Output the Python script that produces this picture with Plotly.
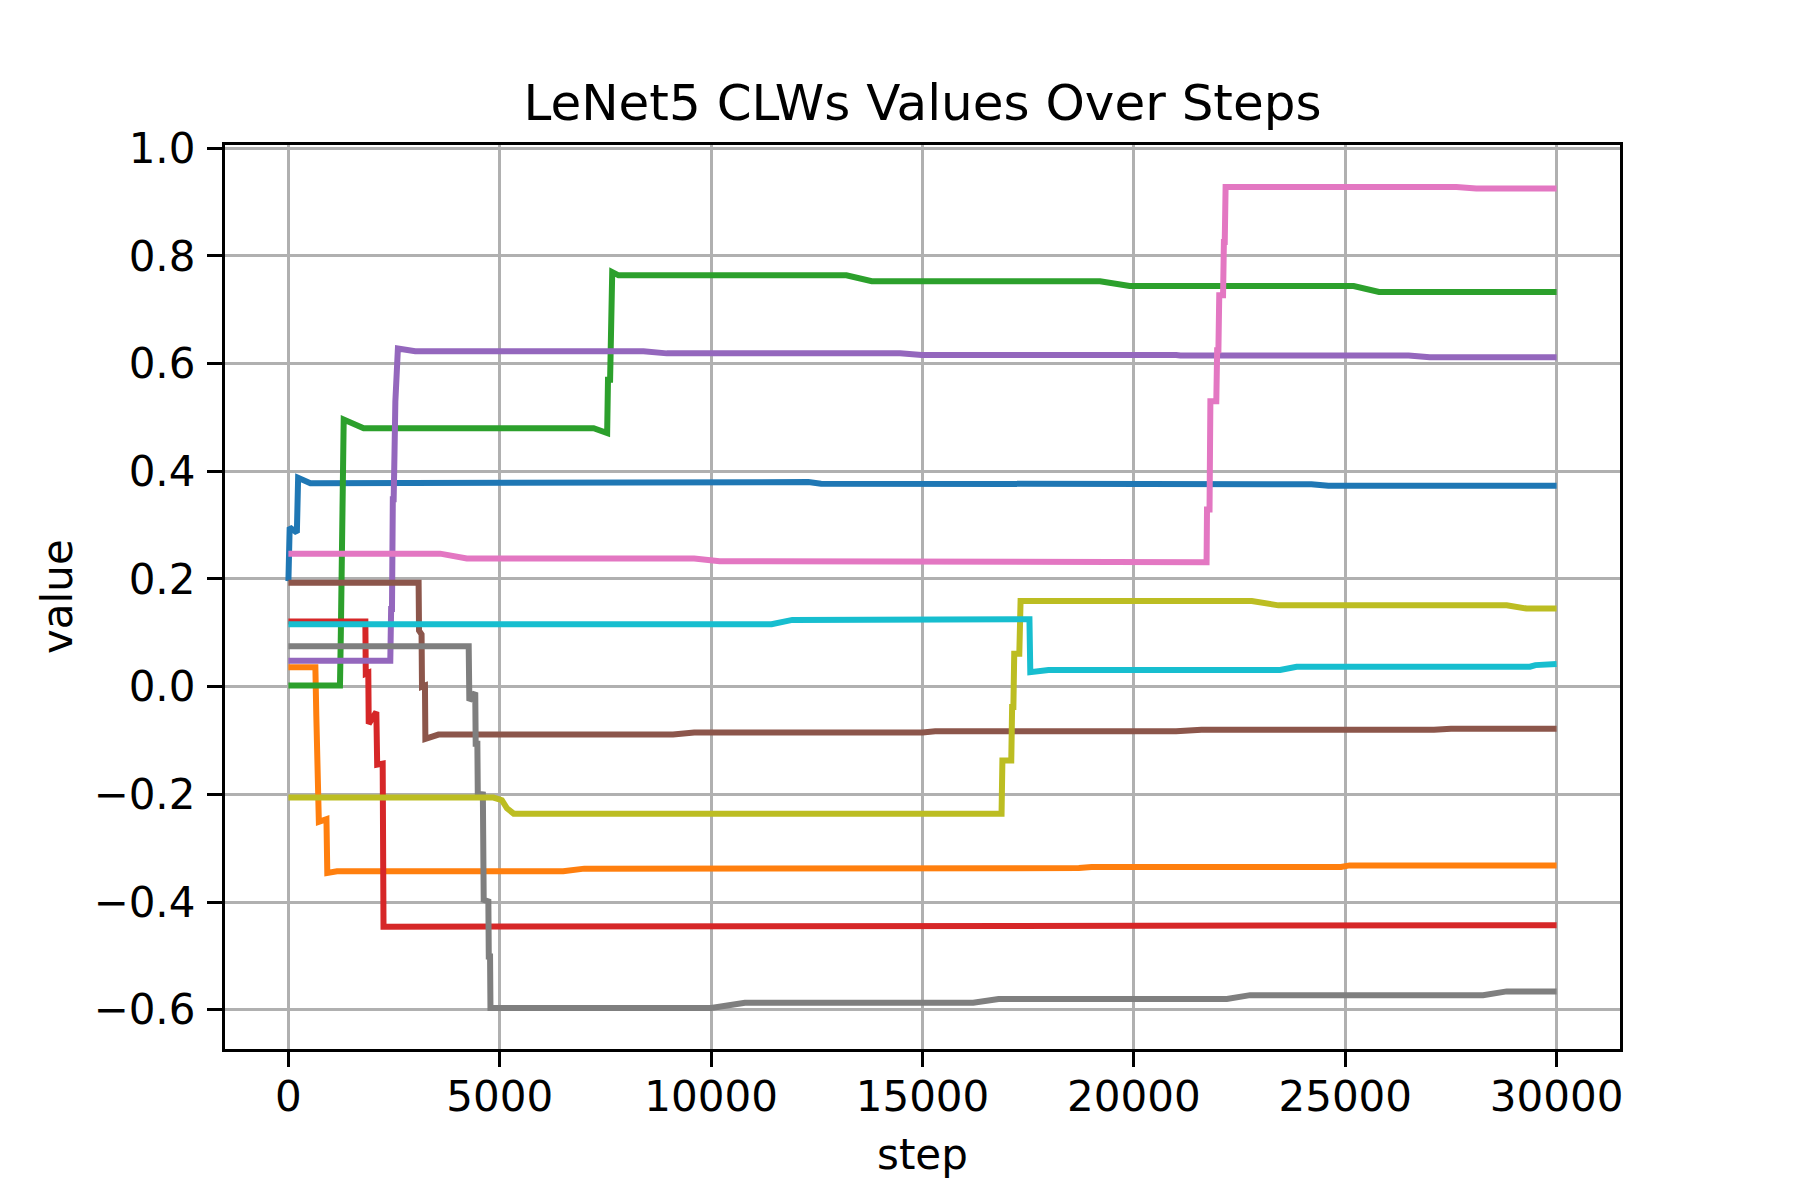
import plotly.graph_objects as go

# ---- data (step, value) per CLW series ----
s0 = [0, 30, 200, 230, 520, 6000, 6450, 12300, 12600, 18100, 18400, 24200, 24600, 30000]
v0 = [0.196, 0.296, 0.286, 0.388, 0.378, 0.378, 0.380, 0.380, 0.377, 0.377, 0.376, 0.376, 0.373, 0.373]

s1 = [0, 638, 660, 690, 720, 900, 920, 1150, 6500, 7000, 12500, 12900, 18700, 19000, 24900, 25100, 30000]
v1 = [0.036, 0.036, -0.054, -0.154, -0.251, -0.246, -0.346, -0.343, -0.343, -0.338, -0.338, -0.337, -0.337, -0.335, -0.335, -0.332, -0.332]

s2 = [0, 1220, 1240, 1260, 1280, 1308, 1780, 7220, 7540, 7560, 7610, 7620, 7650, 7660, 7810, 13200, 13800, 19200, 19900, 25200, 25800, 30000]
v2 = [0.002, 0.002, 0.098, 0.298, 0.397, 0.496, 0.480, 0.480, 0.471, 0.570, 0.570, 0.672, 0.672, 0.770, 0.764, 0.764, 0.753, 0.753, 0.744, 0.744, 0.733, 0.733]

s3 = [0, 1820, 1830, 1890, 1900, 2080, 2100, 2230, 2250, 30000]
v3 = [0.121, 0.121, 0.024, 0.026, -0.069, -0.047, -0.145, -0.143, -0.446, -0.443]

s4 = [0, 2410, 2430, 2450, 2470, 2490, 2510, 2530, 2590, 3000, 8400, 8950, 14470, 14980, 21000, 21100, 26500, 27000, 30000]
v4 = [0.048, 0.048, 0.144, 0.144, 0.348, 0.348, 0.434, 0.53, 0.628, 0.623, 0.623, 0.619, 0.619, 0.616, 0.616, 0.615, 0.615, 0.612, 0.612]

s5 = [0, 3080, 3090, 3150, 3160, 3230, 3240, 3550, 9100, 9600, 15000, 15300, 21000, 21600, 27100, 27500, 30000]
v5 = [0.193, 0.193, 0.104, 0.097, 0.000, 0.002, -0.097, -0.089, -0.089, -0.085, -0.085, -0.083, -0.083, -0.080, -0.080, -0.078, -0.078]

s6 = [0, 3590, 4220, 9600, 10200, 15500, 15800, 21720, 21730, 21790, 21810, 21950, 21970, 22000, 22020, 22110, 22130, 22150, 22170, 27630, 28100, 30000]
v6 = [0.247, 0.247, 0.238, 0.238, 0.233, 0.233, 0.231, 0.231, 0.329, 0.329, 0.530, 0.530, 0.625, 0.625, 0.727, 0.727, 0.826, 0.826, 0.928, 0.928, 0.925, 0.925]

s7 = [0, 4265, 4280, 4420, 4430, 4470, 4480, 4600, 4620, 4730, 4740, 4770, 4780, 10000, 10800, 16200, 16800, 22200, 22750, 28260, 28820, 30000]
v7 = [0.075, 0.075, -0.026, -0.011, -0.106, -0.106, -0.199, -0.200, -0.396, -0.399, -0.501, -0.501, -0.597, -0.597, -0.587, -0.587, -0.580, -0.580, -0.573, -0.573, -0.566, -0.566]

s8 = [0, 4850, 5050, 5170, 5330, 16870, 16890, 17100, 17120, 17150, 17170, 17290, 17320, 22790, 23420, 28820, 29290, 30000]
v8 = [-0.206, -0.206, -0.211, -0.226, -0.236, -0.236, -0.137, -0.137, -0.038, -0.038, 0.061, 0.061, 0.159, 0.159, 0.151, 0.151, 0.145, 0.145]

s9 = [0, 5500, 5650, 5800, 11430, 11920, 17530, 17550, 17700, 17980, 23460, 23850, 29370, 29500, 30000]
v9 = [0.116, 0.116, 0.118, 0.116, 0.116, 0.124, 0.125, 0.027, 0.028, 0.031, 0.031, 0.037, 0.037, 0.040, 0.042]

steps_list = [s0, s1, s2, s3, s4, s5, s6, s7, s8, s9]
values_list = [v0, v1, v2, v3, v4, v5, v6, v7, v8, v9]
colors = ["#1f77b4", "#ff7f0e", "#2ca02c", "#d62728", "#9467bd",
          "#8c564b", "#e377c2", "#7f7f7f", "#bcbd22", "#17becf"]

x_ticks = [0, 5000, 10000, 15000, 20000, 25000, 30000]
x_ticktext = ["0", "5000", "10000", "15000", "20000", "25000", "30000"]
y_ticks = [-0.6, -0.4, -0.2, 0.0, 0.2, 0.4, 0.6, 0.8, 1.0]
y_ticktext = ["\u22120.6", "\u22120.4", "\u22120.2", "0.0", "0.2", "0.4", "0.6", "0.8", "1.0"]

FONT = "DejaVu Sans"

fig = go.Figure()
for i, (s, v) in enumerate(zip(steps_list, values_list)):
    fig.add_trace(go.Scatter(x=s, y=v, mode="lines",
                             line=dict(color=colors[i], width=6),
                             showlegend=False, name=f"clw{i}"))

# page body has an 8px margin: work in figure coords = page coords - 8
OFF = 8
W, H = 1800 - OFF, 1200 - OFF
L, R, T, B = 225 - OFF, 1620 - OFF, 145 - OFF, 1049 - OFF

fig.update_layout(
    width=W, height=H, autosize=False,
    margin=dict(l=L, r=W - R, t=T, b=H - B, pad=0),
    paper_bgcolor="white", plot_bgcolor="white",
    font=dict(family=FONT, size=42, color="black"),
    title=dict(text="LeNet5 CLWs Values Over Steps", font=dict(family=FONT, size=50, color="black"),
               x=(L + R) / 2 / W, xanchor="center", y=1 - (102 - OFF) / H, yanchor="middle",
               xref="container", yref="container"),
    xaxis=dict(range=[-1500, 31500], tickvals=x_ticks, ticktext=x_ticktext,
               showgrid=True, gridcolor="#b0b0b0", gridwidth=3.3, zeroline=False,
               showline=True, linecolor="black", linewidth=3.3, mirror=True,
               ticks="outside", ticklen=15, tickwidth=3.3, tickcolor="black",
               ticklabelstandoff=-7,
               tickfont=dict(family=FONT, size=42, color="black")),
    yaxis=dict(range=[-0.673, 1.006], tickvals=y_ticks, ticktext=y_ticktext,
               showgrid=True, gridcolor="#b0b0b0", gridwidth=3.3, zeroline=False,
               showline=True, linecolor="black", linewidth=3.3, mirror=True,
               ticks="outside", ticklen=15, tickwidth=3.3, tickcolor="black",
               ticklabelstandoff=3,
               tickfont=dict(family=FONT, size=42, color="black")),
    annotations=[
        dict(text="step", xref="paper", yref="paper", x=0.5, y=-(1154 - 1049) / (B - T),
             xanchor="center", yanchor="middle", showarrow=False,
             font=dict(family=FONT, size=42, color="black")),
        dict(text="value", xref="paper", yref="paper", x=-(225 - 57) / (R - L), y=0.5,
             xanchor="center", yanchor="middle", showarrow=False, textangle=-90,
             font=dict(family=FONT, size=42, color="black")),
    ],
)

fig.write_html("out.html")
